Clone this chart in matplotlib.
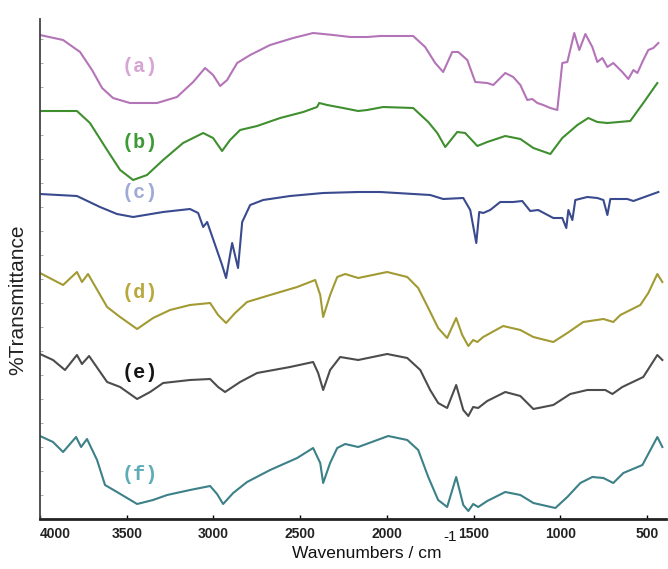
import matplotlib
matplotlib.use("Agg")
import matplotlib.pyplot as plt
import numpy as np

# ---------------- data (wavenumber in cm-1, offset %T in arbitrary units) ----------------
wn_a = [4000, 3867, 3769, 3700, 3642, 3579, 3481, 3325, 3210, 3117, 3048, 3002, 2961, 2921, 2863,
        2788, 2673, 2540, 2425, 2309, 2211, 2113, 2038, 1848, 1779, 1721, 1675, 1623, 1588, 1536,
        1490, 1421, 1386, 1317, 1271, 1230, 1190, 1161, 1132, 1098, 1057, 1017, 988, 959, 919,
        890, 855, 815, 786, 757, 728, 694, 642, 607, 578, 555, 521, 492, 463, 434]
t_a = [96.8, 95.8, 93.4, 89.8, 86.2, 84.2, 83.2, 83.2, 84.4, 87.4, 90.2, 88.8, 86.6, 87.8, 91.2,
       92.8, 94.8, 96.2, 97.2, 96.8, 96.4, 96.4, 96.6, 96.6, 94.4, 91.2, 89.4, 93.4, 93.4, 91.8,
       87.4, 87.2, 86.8, 89.2, 88.4, 86.8, 83.8, 84.0, 83.2, 82.8, 82.2, 81.8, 91.2, 91.4, 97.2,
       93.8, 97.0, 94.4, 91.4, 92.2, 90.4, 91.2, 89.4, 88.0, 89.8, 89.2, 91.8, 93.8, 94.2, 95.2]

wn_b = [4000, 3787, 3712, 3613, 3538, 3463, 3383, 3290, 3175, 3059, 3002, 2950, 2904, 2846, 2748,
        2615, 2482, 2402, 2390, 2344, 2252, 2165, 2113, 2021, 1848, 1761, 1709, 1663, 1594, 1548,
        1478, 1421, 1317, 1230, 1155, 1057, 988, 901, 838, 786, 728, 596, 521, 440]
t_b = [81.6, 81.6, 79.2, 73.8, 69.8, 67.8, 68.8, 71.8, 75.2, 77.2, 76.2, 73.6, 75.8, 77.8, 78.6,
       80.2, 81.4, 82.4, 83.2, 82.8, 82.2, 81.6, 81.8, 82.4, 82.2, 79.4, 77.2, 74.4, 77.4, 77.2,
       74.6, 75.4, 76.6, 76.0, 74.2, 73.0, 76.2, 78.8, 80.2, 79.4, 79.2, 79.6, 83.2, 87.2]

wn_c = [4000, 3787, 3654, 3556, 3463, 3290, 3135, 3088, 3059, 3036, 2990, 2950, 2927, 2892, 2858,
        2834, 2788, 2713, 2558, 2367, 2165, 2038, 1750, 1675, 1559, 1519, 1484, 1467, 1444, 1404,
        1346, 1271, 1219, 1173, 1127, 1040, 988, 965, 953, 930, 913, 844, 786, 751, 728, 711,
        613, 578, 498, 434]
t_c = [65.0, 64.6, 62.4, 61.0, 60.4, 61.4, 62.0, 61.2, 58.4, 59.4, 54.8, 50.8, 48.2, 55.2, 50.2,
       59.4, 62.8, 63.8, 64.6, 65.2, 65.4, 65.4, 64.8, 64.0, 64.2, 61.8, 55.2, 61.4, 61.2, 61.8,
       63.4, 63.4, 63.6, 61.6, 61.8, 60.2, 60.2, 58.2, 61.8, 59.8, 63.8, 64.4, 64.2, 63.8, 60.8, 64.0,
       64.0, 63.6, 64.6, 65.4]

wn_d = [4000, 3867, 3787, 3758, 3723, 3613, 3538, 3440, 3348, 3250, 3135, 3019, 2973, 2927, 2875,
        2806, 2673, 2517, 2413, 2384, 2367, 2327, 2286, 2240, 2165, 1998, 1882, 1819, 1761, 1704,
        1652, 1600, 1565, 1530, 1502, 1478, 1444, 1329, 1230, 1155, 1040, 959, 867, 751, 694, 653,
        538, 492, 440, 411]
t_d = [49.2, 46.8, 49.4, 47.4, 49.0, 42.4, 40.4, 38.0, 40.2, 41.8, 42.8, 43.2, 40.8, 39.2, 41.2,
       43.4, 44.8, 46.4, 47.8, 44.8, 40.4, 44.8, 48.4, 49.0, 48.2, 49.4, 48.4, 46.2, 42.2, 38.2,
       36.2, 40.2, 36.8, 34.6, 35.8, 35.4, 36.4, 38.6, 37.8, 36.4, 35.4, 37.2, 39.4, 40.0, 39.4, 40.8,
       42.8, 45.2, 49.0, 47.4]

wn_e = [4000, 3925, 3856, 3787, 3758, 3717, 3613, 3538, 3440, 3365, 3290, 3135, 3019, 2973, 2933,
        2846, 2748, 2558, 2425, 2396, 2367, 2327, 2269, 2165, 1998, 1882, 1807, 1750, 1704, 1652,
        1600, 1559, 1530, 1502, 1473, 1421, 1317, 1230, 1155, 1040, 942, 844, 740, 699, 642, 521,
        440, 411]
t_e = [33.0, 31.8, 29.8, 32.8, 31.0, 32.6, 27.4, 26.4, 24.0, 25.4, 27.2, 27.8, 28.0, 26.4, 25.4,
       27.4, 29.2, 30.4, 31.4, 29.2, 25.8, 29.8, 32.4, 31.8, 33.0, 32.2, 29.8, 25.8, 23.2, 22.2,
       26.8, 21.8, 20.6, 22.4, 22.2, 23.6, 25.4, 24.6, 22.0, 22.8, 25.0, 25.8, 25.8, 25.0, 26.4, 28.4,
       32.8, 31.8]

wn_f = [4000, 3925, 3867, 3792, 3763, 3729, 3671, 3625, 3556, 3440, 3348, 3267, 3135, 3019, 2979,
        2944, 2886, 2806, 2673, 2517, 2425, 2384, 2367, 2327, 2286, 2240, 2165, 1992, 1882, 1819,
        1761, 1704, 1652, 1600, 1559, 1530, 1502, 1473, 1421, 1317, 1230, 1155, 1028, 959, 884,
        815, 751, 694, 636, 526, 440, 411]
t_f = [16.6, 15.4, 13.4, 16.4, 14.4, 16.0, 11.8, 6.8, 5.4, 3.0, 3.8, 4.8, 5.8, 6.6, 5.0,
       3.0, 5.2, 7.4, 9.8, 12.2, 14.2, 11.2, 7.2, 11.2, 14.2, 15.0, 14.4, 16.6, 15.8, 13.8,
       8.4, 3.8, 2.4, 8.4, 2.8, 1.6, 3.0, 2.4, 3.6, 5.4, 4.8, 3.2, 2.2, 4.4, 7.2,
       8.4, 8.2, 7.2, 9.2, 10.8, 16.4, 14.4]

labels = ["(a)", "(b)", "(c)", "(d)", "(e)", "(f)"]
xticks = [4000, 3500, 3000, 2500, 2000, 1500, 1000, 500]

# ---------------- styling ----------------
line_colors = ["#b474b8", "#3f8f2f", "#3a4a8e", "#a29a32", "#4c4c4c", "#3c8088"]
label_colors = ["#d8a4d4", "#3e9a36", "#a0aad6", "#b8a83e", "#151515", "#5eacb6"]
label_y = [66, 142, 192, 293, 373, 474]  # pixel rows of the label centres

W, H = 668, 569
fig = plt.figure(figsize=(W / 100, H / 100), dpi=100)
ax_l, ax_r, ax_t, ax_b = 40, 666, 19, 519
ax = fig.add_axes([ax_l / W, 1 - ax_b / H, (ax_r - ax_l) / W, (ax_b - ax_t) / H])

series = [(wn_a, t_a), (wn_b, t_b), (wn_c, t_c), (wn_d, t_d), (wn_e, t_e), (wn_f, t_f)]
for (wn, t), c in zip(series, line_colors):
    ax.plot(wn, t, color=c, lw=1.5, solid_joinstyle="round")

ax.set_xlim(4000, 390)
ax.set_ylim(0, 100)

for lab, c, py in zip(labels, label_colors, label_y):
    fig.text(140 / W, 1 - py / H, lab, color=c, fontsize=14.5, family="Liberation Mono",
             ha="center", va="center", fontweight="bold")

for s in ["top", "right"]:
    ax.spines[s].set_visible(False)
ax.spines["left"].set_color("#444444")
ax.spines["left"].set_linewidth(1.3)
ax.spines["bottom"].set_color("#222222")
ax.spines["bottom"].set_linewidth(2.0)

ax.set_xticks(xticks)
ax.set_xticklabels([str(v) for v in xticks], fontsize=10, fontweight="bold",
                   family="Liberation Sans", color="#222222")
ax.get_xticklabels()[0].set_horizontalalignment("left")
ax.tick_params(axis="x", direction="in", length=3, width=1, pad=6)
ax.set_yticks(np.arange(4.8, 100, 4.8))
ax.set_yticklabels([])
ax.tick_params(axis="y", direction="in", length=2.5, width=0.6, colors="#999999")

fig.text(367 / W, 1 - 553 / H, "Wavenumbers / cm", fontsize=12.5, family="Liberation Sans",
         ha="center", va="center", color="#111111")
fig.text(450 / W, 1 - 537 / H, "-1", fontsize=11, family="Liberation Sans",
         ha="center", va="center", color="#111111")
fig.text(18 / W, 1 - 300 / H, "%Transmittance", fontsize=15, family="Liberation Sans",
         rotation=90, ha="center", va="center", color="#222222")

fig.savefig("out.png", dpi=100)
